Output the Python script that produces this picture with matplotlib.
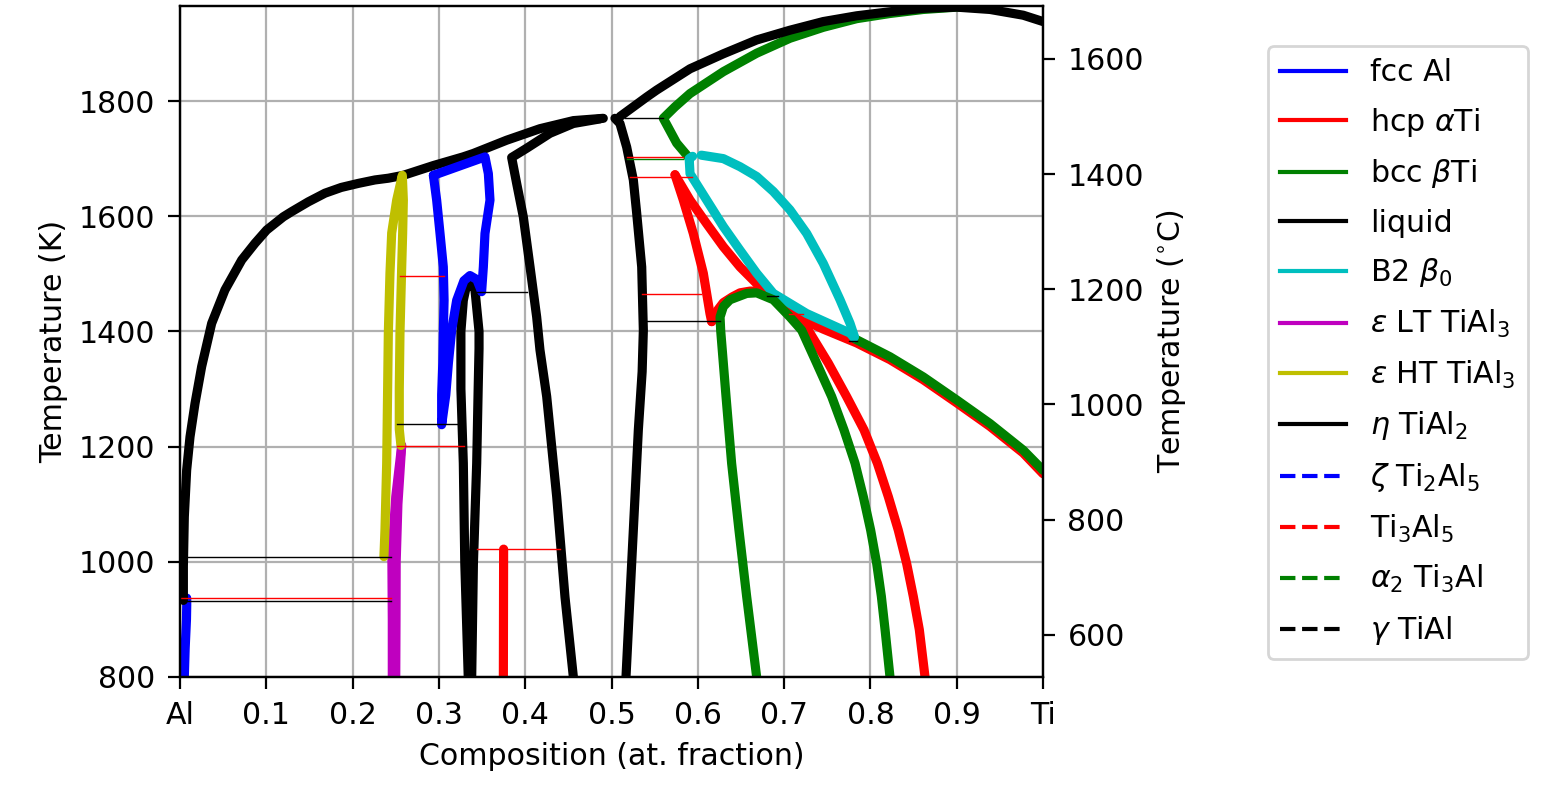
import matplotlib
matplotlib.use("Agg")
import matplotlib.pyplot as plt
from matplotlib.lines import Line2D

# ---------------- data (composition = Ti fraction, T in K) ----------------
fcc_x = [0.0050, 0.0060, 0.0075, 0.0078, 0.0078]
fcc_T = [800, 850, 900, 925, 937]

liqAl_x = [0.0039, 0.0039, 0.0050, 0.0077, 0.0116, 0.0174, 0.0251, 0.0367, 0.0521,
           0.0715, 0.0869, 0.1004, 0.1197, 0.1294, 0.1487, 0.1680, 0.1869, 0.2066,
           0.2259, 0.2414, 0.2587, 0.2936, 0.3280, 0.3399, 0.3785, 0.4171, 0.4558,
           0.4905]
liqAl_T = [933, 992, 1078, 1159, 1217, 1275, 1339, 1414, 1472,
           1524, 1553, 1576, 1599, 1608, 1625, 1640, 1650, 1657,
           1663, 1666, 1671, 1688, 1703, 1709, 1732, 1752, 1766,
           1770]

liqTi_x = [0.5098, 0.5408, 0.5523, 0.5910, 0.6296, 0.6682, 0.7068, 0.7454, 0.7841,
           0.8227, 0.8613, 0.9000, 0.9386, 0.9771, 1.0000]
liqTi_T = [1773, 1807, 1819, 1856, 1882, 1906, 1923, 1938, 1948,
           1955, 1961, 1963, 1959, 1949, 1938]

bcc_up_x = [0.5890, 0.5755, 0.5600, 0.5736, 0.5910, 0.6296, 0.6682, 0.7068, 0.7454,
            0.7841, 0.8227, 0.8613, 0.9000, 0.9400]
bcc_up_T = [1703, 1727, 1770, 1790, 1813, 1851, 1883, 1909, 1928,
            1943, 1952, 1959, 1963, 1962]

bcc_lo_x = [0.7822, 0.8227, 0.8613, 0.9000, 0.9386, 0.9770, 1.0000]
bcc_lo_T = [1387, 1356, 1321, 1281, 1240, 1194, 1159]

hcpA_x = [0.5736, 0.5832, 0.5948, 0.6064, 0.6141, 0.6161]
hcpA_T = [1672, 1628, 1570, 1501, 1431, 1417]
hcpB_x = [0.6161, 0.6230, 0.6296, 0.6400, 0.6489, 0.6605, 0.6682]
hcpB_T = [1417, 1437, 1450, 1460, 1467, 1470, 1470]
hcpC_x = [0.5736, 0.5910, 0.6103, 0.6296, 0.6489, 0.6682, 0.6837, 0.7068, 0.7454,
          0.7841, 0.8227, 0.8613, 0.9000, 0.9386, 0.9770, 1.0000]
hcpC_T = [1672, 1628, 1587, 1547, 1512, 1483, 1463, 1431, 1404,
          1380, 1351, 1316, 1276, 1235, 1189, 1153]
hcpD_x = [0.7068, 0.7280, 0.7512, 0.7724, 0.7926, 0.8081, 0.8208, 0.8323, 0.8420,
          0.8497, 0.8567, 0.8633]
hcpD_T = [1431, 1402, 1345, 1287, 1229, 1171, 1113, 1055, 997,
          940, 882, 800]

b2L_x = [0.5940, 0.5900, 0.5910, 0.6103, 0.6296, 0.6489, 0.6682, 0.6875, 0.7262,
         0.7764, 0.7810]
b2L_T = [1704, 1700, 1674, 1628, 1582, 1541, 1501, 1466, 1431, 1397, 1389]
b2R_x = [0.6040, 0.6296, 0.6489, 0.6682, 0.6875, 0.7068, 0.7262, 0.7454, 0.7648,
         0.7764, 0.7815]
b2R_T = [1706, 1700, 1686, 1669, 1643, 1611, 1570, 1518, 1455, 1414, 1391]

epsLT1_x = [0.2569, 0.2500, 0.2455, 0.2460, 0.2460]
epsLT1_T = [1202, 1113, 1009, 900, 800]
epsLT2_x = [0.2569, 0.2525, 0.2505, 0.2503, 0.2500]
epsLT2_T = [1202, 1100, 1000, 900, 800]

epsHT_x = [0.2363, 0.2375, 0.2395, 0.2414, 0.2433, 0.2453, 0.2511, 0.2576, 0.2588,
           0.2580, 0.2569, 0.2549, 0.2541, 0.2541, 0.2560]
epsHT_T = [1009, 1055, 1171, 1397, 1501, 1571, 1628, 1671, 1628,
           1570, 1512, 1397, 1300, 1230, 1202]

eta_x = [0.3340, 0.3300, 0.3283, 0.3255, 0.3255, 0.3283, 0.3320, 0.3360, 0.3418,
         0.3465, 0.3465, 0.3455, 0.3438, 0.3400, 0.3380]
eta_T = [800, 998, 1171, 1300, 1400, 1454, 1480, 1487, 1472,
         1400, 1370, 1300, 1171, 998, 800]

zeta_x = [0.2936, 0.3534, 0.3573, 0.3592, 0.3534, 0.3515, 0.3495, 0.3440, 0.3360,
          0.3290, 0.3206, 0.3148, 0.3110, 0.3080, 0.3032, 0.3032, 0.3045, 0.3051,
          0.3060, 0.3051, 0.3013, 0.2974, 0.2936]
zeta_T = [1671, 1703, 1674, 1628, 1570, 1512, 1469, 1490, 1497,
          1488, 1454, 1402, 1345, 1290, 1238, 1290, 1345, 1397,
          1454, 1512, 1570, 1628, 1671]

ti3al5_x = [0.3750, 0.3747]
ti3al5_T = [1022, 800]

a2_x = [0.6682, 0.6566, 0.6477, 0.6392, 0.6327, 0.6265, 0.6258, 0.6296, 0.6373,
        0.6567, 0.6682, 0.6875, 0.7068, 0.7204, 0.7377, 0.7551, 0.7694, 0.7822,
        0.7918, 0.8003, 0.8073, 0.8127, 0.8170, 0.8227]
a2_T = [800, 940, 1055, 1171, 1287, 1402, 1425, 1443, 1455,
        1466, 1467, 1455, 1425, 1402, 1345, 1287, 1229, 1171,
        1113, 1055, 997, 940, 882, 800]

gamL_x = [0.4867, 0.4558, 0.4287, 0.4017, 0.3843, 0.3901, 0.3978, 0.4056, 0.4133,
          0.4171, 0.4249, 0.4365, 0.4461, 0.4558]
gamL_T = [1769, 1761, 1744, 1718, 1702, 1657, 1599, 1512, 1425,
          1368, 1287, 1113, 939, 800]
gamR_x = [0.5040, 0.5098, 0.5176, 0.5253, 0.5292, 0.5350, 0.5369, 0.5355, 0.5311,
          0.5253, 0.5195, 0.5168]
gamR_T = [1770, 1761, 1720, 1663, 1605, 1512, 1402, 1330, 1229,
          1055, 882, 800]

# tie lines
red_tie_T = [936.6, 1201.6, 1022, 1496, 1702, 1668.7, 1465, 1431]
red_tie_x0 = [0.000, 0.2518, 0.3438, 0.2549, 0.5176, 0.5220, 0.5350, 0.7060]
red_tie_x1 = [0.244, 0.3290, 0.4403, 0.3060, 0.5830, 0.5930, 0.6040, 0.7220]
blk_tie_T = [1009, 932, 1238.7, 1468, 1769.7, 1418, 1462, 1384]
blk_tie_x0 = [0.004, 0.003, 0.2518, 0.3438, 0.5156, 0.5410, 0.6800, 0.7756]
blk_tie_x1 = [0.245, 0.244, 0.3225, 0.4025, 0.5600, 0.6257, 0.6930, 0.7840]
grn_tie_T = [1699.5]
grn_tie_x0 = [0.5176]
grn_tie_x1 = [0.5830]

legend_labels = ['fcc Al', r'hcp $\alpha$Ti', r'bcc $\beta$Ti', 'liquid', r'B2 $\beta_0$',
                 r'$\varepsilon$ LT TiAl$_3$', r'$\varepsilon$ HT TiAl$_3$', r'$\eta$ TiAl$_2$',
                 r'$\zeta$ Ti$_2$Al$_5$', r'Ti$_3$Al$_5$', r'$\alpha_2$ Ti$_3$Al', r'$\gamma$ TiAl']
legend_colors = ['b', 'r', 'g', 'k', 'c', 'm', 'y', 'k', 'b', 'r', 'g', 'k']
legend_styles = ['-'] * 8 + ['--'] * 4

xticks = [0, 0.1, 0.2, 0.3, 0.4, 0.5, 0.6, 0.7, 0.8, 0.9, 1.0]
xticklabels = ['Al', '0.1', '0.2', '0.3', '0.4', '0.5', '0.6', '0.7', '0.8', '0.9', 'Ti']
yticks_K = [800, 1000, 1200, 1400, 1600, 1800]
yticks_C = [600, 800, 1000, 1200, 1400, 1600]

# ---------------- plotting ----------------
plt.rcParams['font.size'] = 10.8
W, H, DPI = 1549, 788, 200
fig = plt.figure(figsize=(W / DPI, H / DPI), dpi=DPI)
ax = fig.add_axes([180 / W, 1 - 677 / H, (1043 - 180) / W, (677 - 6) / H])

LW = 3.3
kw = dict(lw=LW, solid_capstyle='round', solid_joinstyle='round')

ax.plot(fcc_x, fcc_T, color='b', **kw)
for xs, ts in [(hcpA_x, hcpA_T), (hcpB_x, hcpB_T), (hcpC_x, hcpC_T), (hcpD_x, hcpD_T)]:
    ax.plot(xs, ts, color='r', **kw)
for xs, ts in [(bcc_up_x, bcc_up_T), (bcc_lo_x, bcc_lo_T)]:
    ax.plot(xs, ts, color='g', **kw)
for xs, ts in [(liqAl_x, liqAl_T), (liqTi_x, liqTi_T)]:
    ax.plot(xs, ts, color='k', **kw)
for xs, ts in [(b2L_x, b2L_T), (b2R_x, b2R_T)]:
    ax.plot(xs, ts, color='c', **kw)
for xs, ts in [(epsLT1_x, epsLT1_T), (epsLT2_x, epsLT2_T)]:
    ax.plot(xs, ts, color='m', **kw)
ax.plot(epsHT_x, epsHT_T, color='y', **kw)
ax.plot(eta_x, eta_T, color='k', **kw)
ax.plot(zeta_x, zeta_T, color='b', **kw)
ax.plot(ti3al5_x, ti3al5_T, color='r', **kw)
ax.plot(a2_x, a2_T, color='g', **kw)
for xs, ts in [(gamL_x, gamL_T), (gamR_x, gamR_T)]:
    ax.plot(xs, ts, color='k', **kw)

for Ts, x0s, x1s, c in [(grn_tie_T, grn_tie_x0, grn_tie_x1, 'g'),
                        (blk_tie_T, blk_tie_x0, blk_tie_x1, 'k'),
                        (red_tie_T, red_tie_x0, red_tie_x1, 'r')]:
    for T, a, b in zip(Ts, x0s, x1s):
        ax.plot([a, b], [T, T], color=c, lw=0.5)

ax.set_xlim(0, 1)
ax.set_ylim(800, 1965)
ax.set_xticks(xticks)
ax.set_xticklabels(xticklabels)
ax.set_yticks(yticks_K)
ax.grid(True, color='#b0b0b0', lw=0.8)
ax.set_axisbelow(True)
ax.set_xlabel('Composition (at. fraction)')
ax.set_ylabel('Temperature (K)')
ax.tick_params(length=4.3, pad=4.5)

ax2 = ax.twinx()
ax2.set_ylim(800 - 273.15, 1965 - 273.15)
ax2.set_yticks(yticks_C)
ax2.set_ylabel(r'Temperature ($^{\circ}$C)')
ax2.tick_params(length=4.3, pad=4.5)

handles = [Line2D([], [], color=c, ls=s, lw=1.5) for c, s in zip(legend_colors, legend_styles)]
fig.legend(handles, legend_labels, loc='upper left',
           bbox_to_anchor=(1268 / W, 1 - 46 / H), borderaxespad=0,
           handlelength=2.2, labelspacing=0.62)

fig.savefig('out.png', dpi=DPI)
